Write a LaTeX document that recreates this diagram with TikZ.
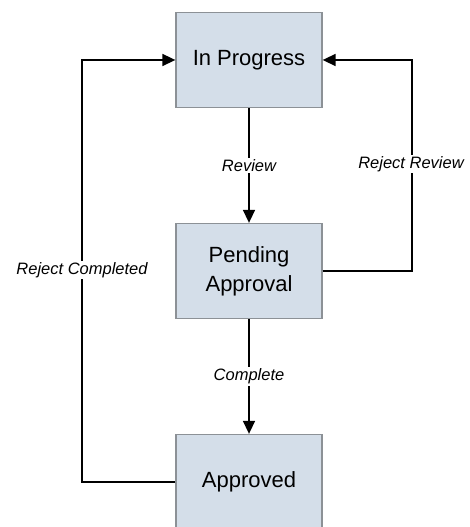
\documentclass[tikz,border=0pt]{standalone}
\usepackage{fontspec}
\setmainfont{Liberation Sans}
\usepackage{xcolor}
\usepackage{tikz}
\usetikzlibrary{arrows.meta}
\definecolor{boxfill}{HTML}{D4DEE9}
\definecolor{boxline}{HTML}{8C9196}

\begin{document}
\begin{tikzpicture}[x=1pt, y=1pt,
    state/.style={draw=boxline, line width=1.3pt, fill=boxfill, minimum width=146pt, minimum height=95pt, align=center, font=\fontsize{22}{29}\selectfont},
    flow/.style={line width=1.6pt, -{Triangle[length=13pt, width=12pt]}},
    lbl/.style={fill=white, inner sep=1.5pt, font=\fontsize{16.5}{19}\selectfont\itshape}]
          \useasboundingbox (0,0) rectangle (469,527);

          % States
          \node[state] (ip) at (249,467) {In Progress};
          \node[state] (pa) at (249,256) {Pending\\Approval};
          \node[state] (ap) at (249,45) {Approved};

          % Forward transitions
          \draw[flow] (ip) -- node[lbl] (rev) {Review} (pa);
          \draw[flow] (pa) -- node[lbl] (cmp) {Complete} (ap);

          % Reject loops
          \coordinate (rtop) at (412,467);
          \coordinate (ltop) at (82,467);
          \draw[flow] (pa.east) -| (rtop) -- (ip.east);
          \draw[flow] (ap.west) -| (ltop) -- (ip.west);
          \node[lbl] (rrev) at (411,363) {Reject Review};
          \node[lbl] (rcmp) at (82,257) {Reject Completed};
        \end{tikzpicture}
\end{document}
